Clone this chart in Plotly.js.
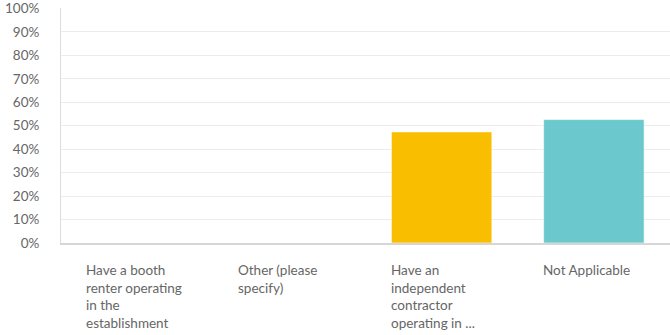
<!DOCTYPE html>
<html>
<head>
<meta charset="utf-8">
<script src="https://cdn.plot.ly/plotly-3.0.1.min.js"></script>
<style>html,body{margin:0;padding:0;background:#fff;}#chart{width:670px;height:335px;}</style>
</head>
<body>
<div id="chart"></div>
<script>
const categories = ["booth", "other", "independent", "na"];
const labels = [
  "Have a booth<br>renter operating<br>in the<br>establishment",
  "Other (please<br>specify)",
  "Have an<br>independent<br>contractor<br>operating in ...",
  "Not Applicable"
];
const values = [0, 0, 47.37, 52.63];
const colors = ["#F9BE00", "#6BC8CD", "#F9BE00", "#6BC8CD"];
const yTickVals = [0,10,20,30,40,50,60,70,80,90,100];
const yTickText = yTickVals.map(v => v + "%");

const font = "Lato, Open Sans, sans-serif";

const trace = {
  type: "bar",
  x: categories,
  y: values,
  marker: {color: colors, line: {color: "rgba(255,255,255,0.6)", width: 1}},
  hoverinfo: "none"
};

const annotations = categories.map((c, i) => ({
  x: c, xref: "x", y: 0, yref: "paper",
  text: labels[i], showarrow: false,
  xanchor: "left", yanchor: "top", align: "left",
  xshift: -53, yshift: -17,
  font: {family: font, size: 13.5, color: "#666"}
}));

const layout = {
  width: 670, height: 335,
  margin: {l: 61, r: 0, t: 8, b: 92},
  paper_bgcolor: "#fff", plot_bgcolor: "#fff",
  bargap: 0.34,
  showlegend: false,
  xaxis: {
    type: "category", showticklabels: false, showgrid: false,
    showline: true, linecolor: "#d6d6d6", linewidth: 2,
    zeroline: false, ticks: "", fixedrange: true
  },
  yaxis: {
    range: [0, 100.2], tickvals: yTickVals, ticktext: yTickText,
    showgrid: true, gridcolor: "#ececec", gridwidth: 1,
    showline: true, linecolor: "#dcdcdc", linewidth: 1,
    zeroline: false, ticks: "", ticklabelstandoff: 18,
    ticklabeloverflow: "allow",
    tickfont: {family: font, size: 13.5, color: "#666"}
  },
  annotations: annotations
};

Plotly.newPlot("chart", [trace], layout, {displayModeBar: false, staticPlot: true});
</script>
</body>
</html>
